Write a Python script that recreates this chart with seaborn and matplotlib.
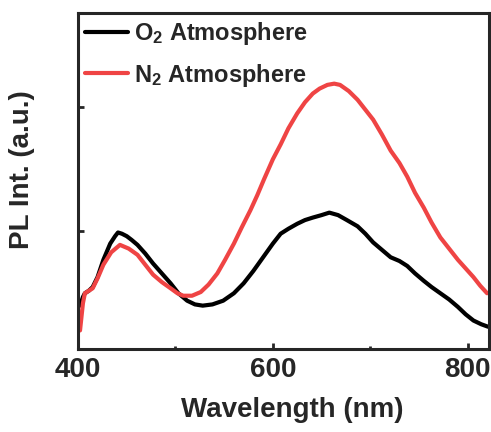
import matplotlib
matplotlib.use("Agg")
import matplotlib.pyplot as plt
import seaborn as sns
import pandas as pd
from matplotlib.ticker import MultipleLocator

# Wavelength (nm) and PL intensity (a.u.)
wl_o2 = [402, 405, 407, 411, 415, 420, 426, 433, 438, 441, 445, 450, 455, 461, 469, 477,
         486, 495, 503, 512, 520, 528, 538, 549, 560, 570, 580, 590, 600, 608, 616, 625,
         633, 641, 650, 658, 667, 676, 687, 695, 703, 712, 721, 730, 738, 746, 755, 763,
         772, 781, 790, 798, 806, 814, 821]
pl_o2 = [0.40, 0.47, 0.50, 0.52, 0.55, 0.63, 0.77, 0.90, 0.96, 0.99, 0.98, 0.96, 0.93, 0.89, 0.82, 0.74,
         0.66, 0.58, 0.50, 0.44, 0.41, 0.40, 0.41, 0.44, 0.50, 0.58, 0.68, 0.79, 0.90, 0.98, 1.02, 1.06,
         1.09, 1.11, 1.13, 1.15, 1.13, 1.09, 1.04, 0.98, 0.91, 0.85, 0.79, 0.76, 0.72, 0.66, 0.60, 0.55,
         0.50, 0.45, 0.39, 0.33, 0.28, 0.25, 0.23]

wl_n2 = [402, 405, 407, 411, 415, 420, 426, 434, 443, 452, 461, 469, 477, 486, 495, 502,
         508, 517, 526, 534, 543, 551, 560, 568, 577, 584, 591, 600, 608, 616, 625, 633,
         641, 648, 656, 663, 669, 678, 687, 695, 703, 712, 721, 730, 738, 746, 755, 763,
         772, 781, 790, 798, 806, 813, 820]
pl_n2 = [0.20, 0.42, 0.50, 0.52, 0.54, 0.62, 0.73, 0.83, 0.89, 0.86, 0.81, 0.73, 0.65, 0.59, 0.54, 0.50,
         0.48, 0.48, 0.51, 0.57, 0.66, 0.77, 0.90, 1.03, 1.17, 1.29, 1.42, 1.58, 1.70, 1.83, 1.95, 2.04,
         2.11, 2.15, 2.18, 2.19, 2.18, 2.13, 2.06, 1.98, 1.90, 1.78, 1.65, 1.55, 1.44, 1.31, 1.19, 1.07,
         0.95, 0.86, 0.77, 0.70, 0.63, 0.56, 0.50]

labels = ["O$_2$ Atmosphere", "N$_2$ Atmosphere"]
colors = ["#000000", "#EF4444"]

df = pd.concat([
    pd.DataFrame({"wl": wl_o2, "pl": pl_o2, "atm": labels[0]}),
    pd.DataFrame({"wl": wl_n2, "pl": pl_n2, "atm": labels[1]}),
])

sns.set_theme(style="ticks")
plt.rcParams["font.family"] = ["Liberation Sans", "DejaVu Sans"]
plt.rcParams["font.weight"] = "bold"
plt.rcParams["mathtext.fontset"] = "custom"
plt.rcParams["mathtext.rm"] = "Liberation Sans:bold"
plt.rcParams["mathtext.default"] = "rm"

fig = plt.figure(figsize=(4.91, 4.32), dpi=100)
ax = fig.add_axes([0.159, 0.192, 0.837, 0.778])

sns.lineplot(data=df, x="wl", y="pl", hue="atm", palette=colors, hue_order=labels,
             linewidth=3.0, ax=ax, sort=False, estimator=None)

ax.set_xlim(400, 822)
ax.set_ylim(0.05, 2.76)
ax.xaxis.set_major_locator(MultipleLocator(200))
ax.xaxis.set_minor_locator(MultipleLocator(100))
ax.set_yticks([1, 2])
ax.set_yticklabels([])
ax.tick_params(axis="both", which="major", direction="in", length=4, width=2, labelsize=20, pad=6)
ax.tick_params(axis="x", which="minor", direction="in", length=2.5, width=2)
for lab in ax.get_xticklabels():
    lab.set_fontweight("bold")
for s in ax.spines.values():
    s.set_linewidth(2.2)

ax.set_xlabel("Wavelength (nm)", fontsize=20, fontweight="bold")
ax.set_ylabel("PL Int. (a.u.)", fontsize=20, fontweight="bold")
ax.xaxis.set_label_coords(0.52, -0.142)
ax.yaxis.set_label_coords(-0.105, 0.535)

leg = ax.legend(loc="upper left", bbox_to_anchor=(0.0, 1.0), frameon=False,
                handlelength=1.8, handletextpad=0.28, labelspacing=0.62,
                borderaxespad=0.0, borderpad=0.3,
                prop={"weight": "bold", "size": 17})
for line in leg.get_lines():
    line.set_linewidth(3.0)

fig.savefig("out.png", dpi=100)
